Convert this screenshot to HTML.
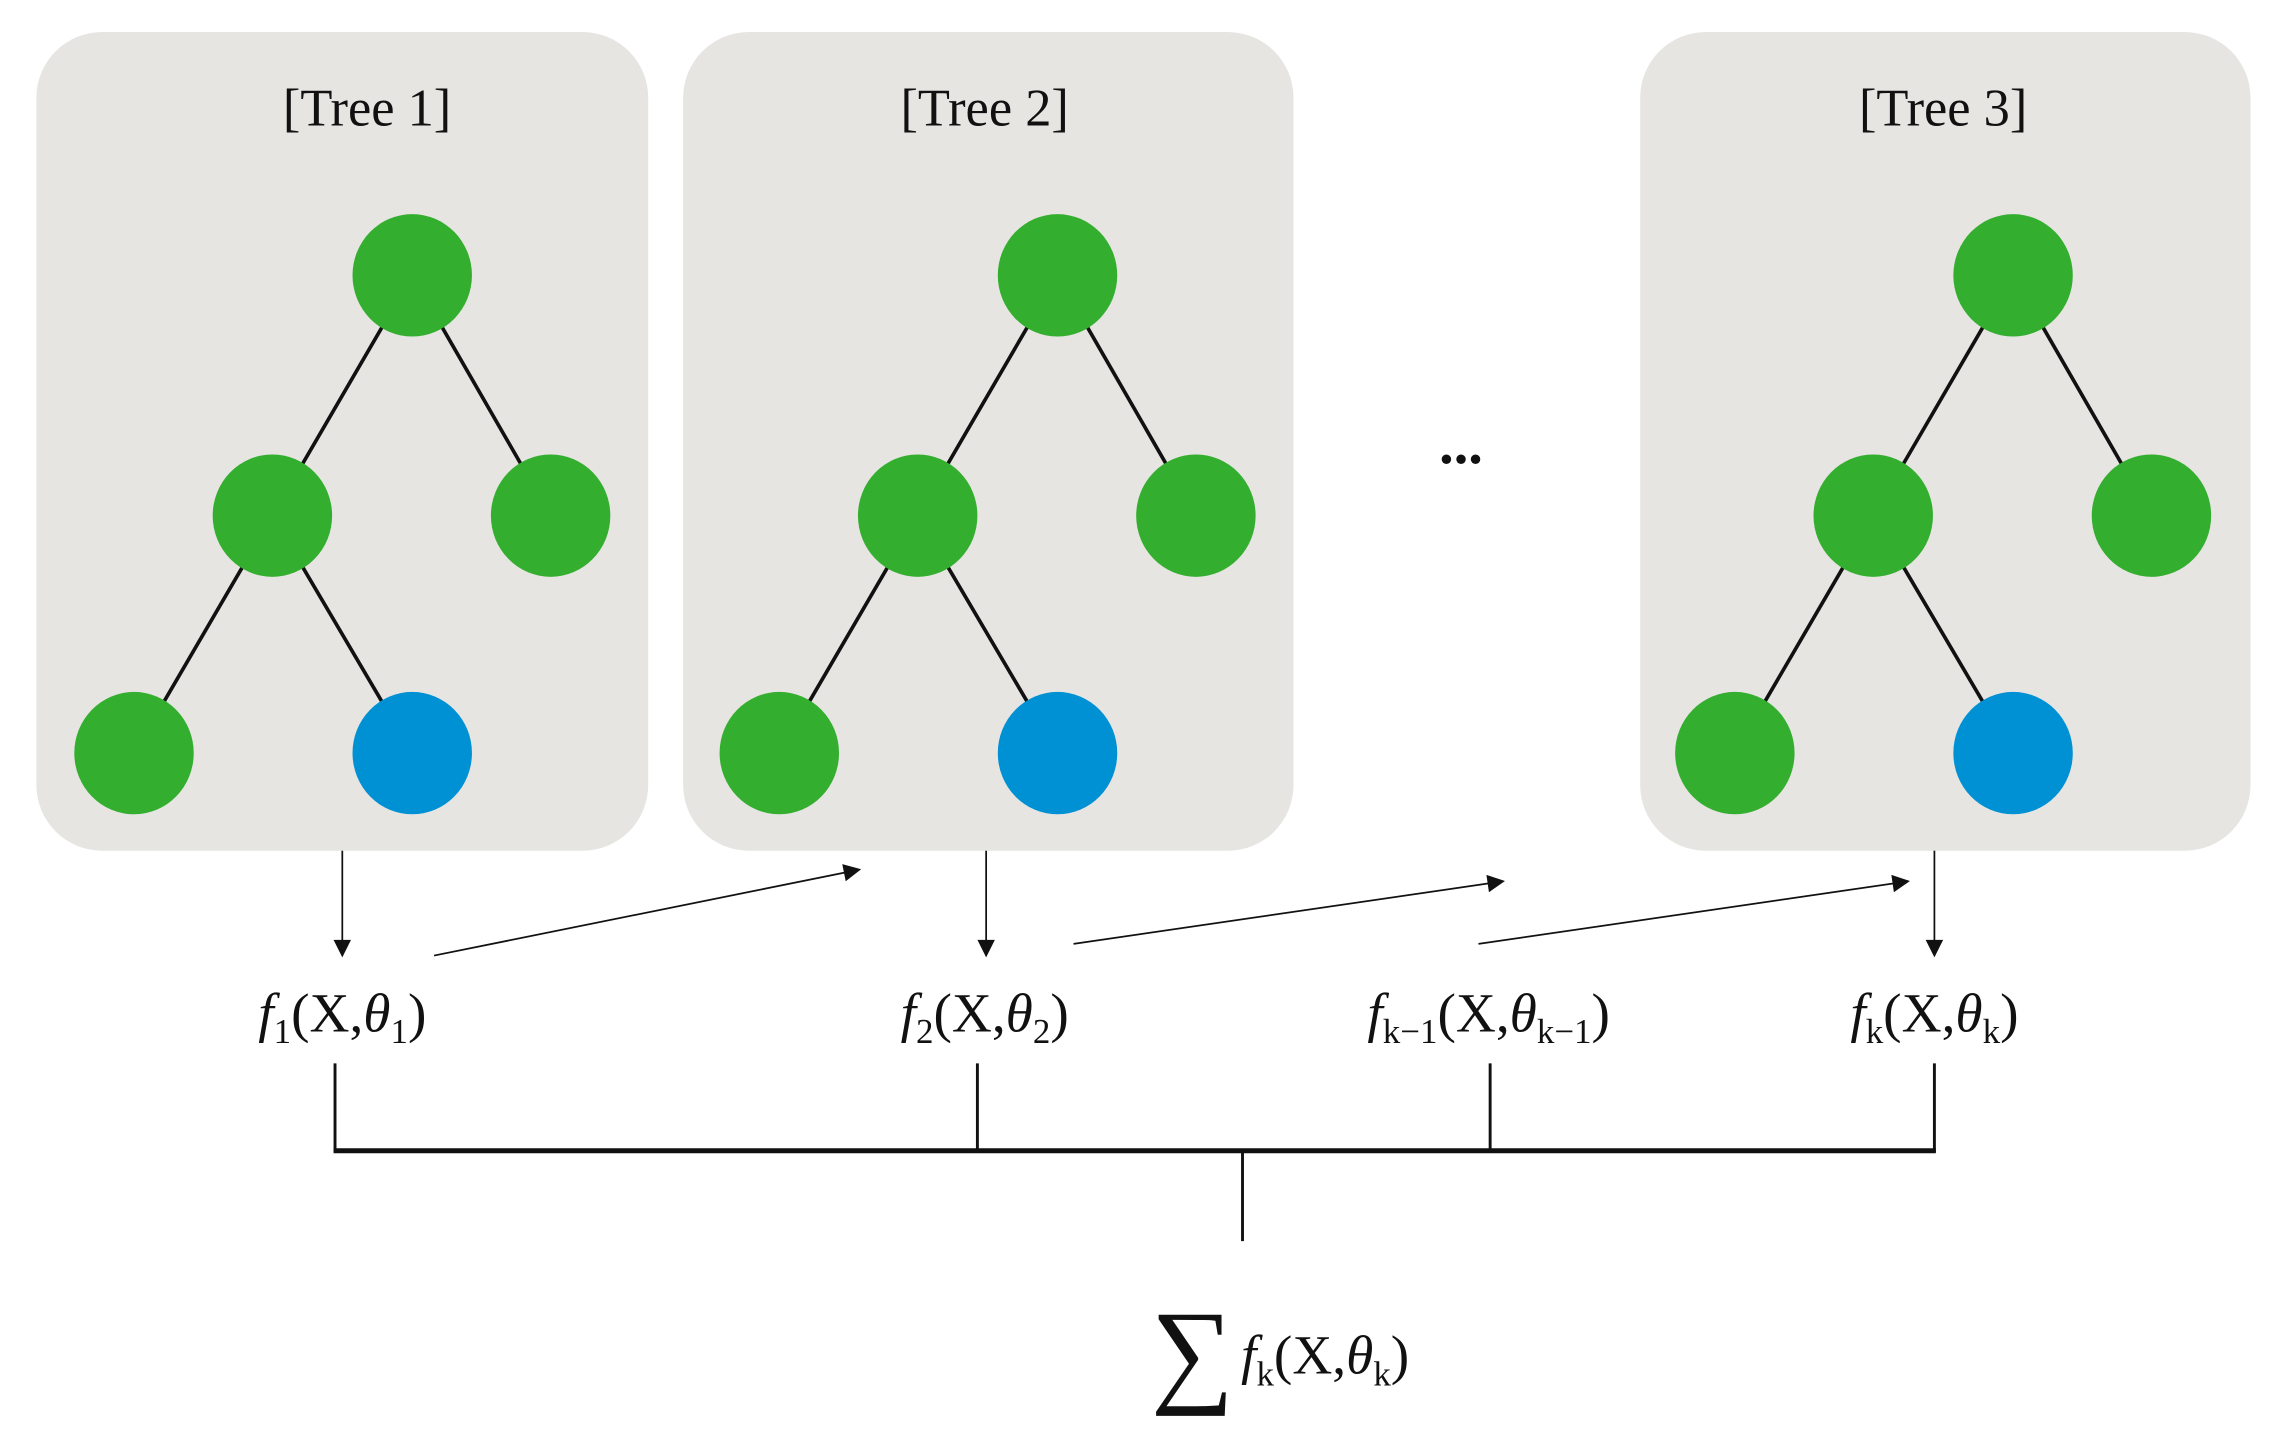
<!DOCTYPE html>
<html><head><meta charset="utf-8"><style>
html,body{margin:0;padding:0;background:#fff;}
svg{display:block;}
text{font-family:"Liberation Serif",serif;fill:#111;}
</style></head><body>
<svg width="2284" height="1437" viewBox="0 0 1568 986.5" xmlns="http://www.w3.org/2000/svg">
<defs>
<marker id="ah" viewBox="0 0 10 10" refX="9" refY="5" markerWidth="8" markerHeight="8" markerUnits="userSpaceOnUse" orient="auto"><path d="M0,0 L10,5 L0,10 z" fill="#111"/></marker>
<marker id="ah2" viewBox="0 0 10 10" refX="9" refY="5" markerWidth="16" markerHeight="12" markerUnits="userSpaceOnUse" orient="auto"><path d="M0,0 L10,5 L0,10 z" fill="#111"/></marker>
<g id="tree">
<line x1="283" y1="189" x2="187" y2="354" stroke="#111" stroke-width="2.5"/>
<line x1="283" y1="189" x2="378" y2="354" stroke="#111" stroke-width="2.5"/>
<line x1="187" y1="354" x2="92" y2="517" stroke="#111" stroke-width="2.5"/>
<line x1="187" y1="354" x2="283" y2="517" stroke="#111" stroke-width="2.5"/>
<ellipse cx="283" cy="189" rx="41" ry="42" fill="#33ae2f"/>
<ellipse cx="187" cy="354" rx="41" ry="42" fill="#33ae2f"/>
<ellipse cx="378" cy="354" rx="41" ry="42" fill="#33ae2f"/>
<ellipse cx="92" cy="517" rx="41" ry="42" fill="#33ae2f"/>
<ellipse cx="283" cy="517" rx="41" ry="42" fill="#0090d4"/>
</g>
</defs>
<rect x="25" y="22" width="420" height="562" rx="45" fill="#e6e5e2"/>
<rect x="469" y="22" width="419" height="562" rx="45" fill="#e6e5e2"/>
<rect x="1126" y="22" width="419" height="562" rx="45" fill="#e6e5e2"/>
<text x="252" y="86" font-size="36" text-anchor="middle">[Tree 1]</text>
<text x="676" y="86" font-size="36" text-anchor="middle">[Tree 2]</text>
<text x="1334" y="86" font-size="36" text-anchor="middle">[Tree 3]</text>
<use href="#tree"/>
<use href="#tree" x="443"/>
<use href="#tree" x="1099"/>
<text x="1003" y="318" font-size="40" font-weight="bold" text-anchor="middle">...</text>
<line x1="235" y1="584" x2="235" y2="656" stroke="#111" stroke-width="1.2" marker-end="url(#ah2)"/>
<line x1="677" y1="584" x2="677" y2="656" stroke="#111" stroke-width="1.2" marker-end="url(#ah2)"/>
<line x1="1328" y1="584" x2="1328" y2="656" stroke="#111" stroke-width="1.2" marker-end="url(#ah2)"/>
<line x1="298" y1="656" x2="590" y2="597" stroke="#111" stroke-width="1.2" marker-end="url(#ah2)"/>
<line x1="737" y1="648" x2="1032" y2="605" stroke="#111" stroke-width="1.2" marker-end="url(#ah2)"/>
<line x1="1015" y1="648" x2="1310" y2="605" stroke="#111" stroke-width="1.2" marker-end="url(#ah2)"/>
<text x="235" y="708" font-size="38" text-anchor="middle"><tspan font-style="italic">f</tspan><tspan font-size="24" dy="8">1</tspan><tspan dy="-8">(X,</tspan><tspan font-style="italic">θ</tspan><tspan font-size="24" dy="8">1</tspan><tspan dy="-8">)</tspan></text>
<text x="676" y="708" font-size="38" text-anchor="middle"><tspan font-style="italic">f</tspan><tspan font-size="24" dy="8">2</tspan><tspan dy="-8">(X,</tspan><tspan font-style="italic">θ</tspan><tspan font-size="24" dy="8">2</tspan><tspan dy="-8">)</tspan></text>
<text x="1022" y="708" font-size="38" text-anchor="middle"><tspan font-style="italic">f</tspan><tspan font-size="24" dy="8">k−1</tspan><tspan dy="-8">(X,</tspan><tspan font-style="italic">θ</tspan><tspan font-size="24" dy="8">k−1</tspan><tspan dy="-8">)</tspan></text>
<text x="1328" y="708" font-size="38" text-anchor="middle"><tspan font-style="italic">f</tspan><tspan font-size="24" dy="8">k</tspan><tspan dy="-8">(X,</tspan><tspan font-style="italic">θ</tspan><tspan font-size="24" dy="8">k</tspan><tspan dy="-8">)</tspan></text>
<g stroke="#111" stroke-width="2">
<line x1="230" y1="730" x2="230" y2="791"/>
<line x1="671" y1="730" x2="671" y2="791"/>
<line x1="1023" y1="730" x2="1023" y2="791"/>
<line x1="1328" y1="730" x2="1328" y2="791"/>
<line x1="853" y1="790" x2="853" y2="852"/>
</g>
<line x1="229" y1="790" x2="1329" y2="790" stroke="#111" stroke-width="3.5"/>
<text x="790" y="955" font-size="80">∑</text>
<text x="852" y="943" font-size="38"><tspan font-style="italic">f</tspan><tspan font-size="24" dy="8">k</tspan><tspan dy="-8">(X,</tspan><tspan font-style="italic">θ</tspan><tspan font-size="24" dy="8">k</tspan><tspan dy="-8">)</tspan></text>
</svg>
</body></html>
